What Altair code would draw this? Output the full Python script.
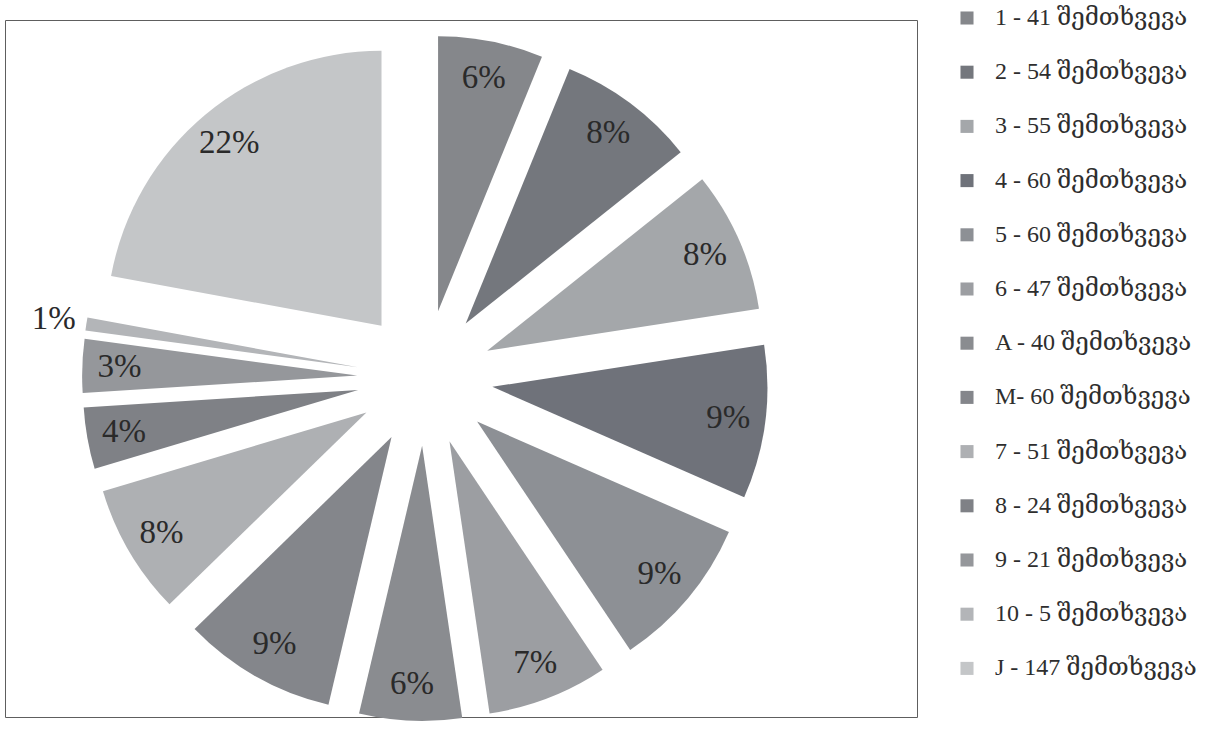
import altair as alt
import pandas as pd

# ---- data ----
labels = [
    "1 - 41 შემთხვევა",
    "2 - 54 შემთხვევა",
    "3 - 55 შემთხვევა",
    "4 - 60 შემთხვევა",
    "5 - 60 შემთხვევა",
    "6 - 47 შემთხვევა",
    "A - 40 შემთხვევა",
    "M- 60 შემთხვევა",
    "7 - 51 შემთხვევა",
    "8 - 24 შემთხვევა",
    "9 - 21 შემთხვევა",
    "10 - 5 შემთხვევა",
    "J -  147 შემთხვევა",
]
values = [41, 54, 55, 60, 60, 47, 40, 60, 51, 24, 21, 5, 147]
colors = [
    "#85878b", "#74777d", "#a4a7aa", "#6f727a", "#8d9095", "#9c9ea2",
    "#8a8c90", "#84868b", "#aeb0b3", "#7f8186", "#95979b", "#b3b5b8",
    "#c4c6c8",
]

df = pd.DataFrame({"label": labels, "value": values, "order": list(range(len(values)))})

# ---- layout ----
W, H = 912, 697          # plot frame
CX, CY = 420, 358        # pie centre inside the frame
R = 275                  # pie radius (px)
EXPLODE = 0.247          # explosion as a fraction of the radius
FONT_LEGEND = "Liberation Serif, DejaVu Serif, DejaVu Sans"
FONT_LABEL = "Liberation Serif, DejaVu Serif"

base = (
    alt.Chart(df)
    .transform_joinaggregate(total="sum(value)")
    .transform_window(cum="sum(value)", sort=[alt.SortField("order")], frame=[None, 0])
    .transform_calculate(
        t1="2*PI*(datum.cum - datum.value)/datum.total",
        t2="2*PI*datum.cum/datum.total",
        share="datum.value/datum.total",
    )
    .transform_calculate(
        mid="(datum.t1 + datum.t2)/2",
        pct="format(datum.share, '.0%')",
        lr=f"datum.share < 0.02 ? {R * 1.12} : {R * 0.865}",
    )
    .transform_calculate(
        ex=f"{EXPLODE}*sin(datum.mid)",
        ey=f"{EXPLODE}*cos(datum.mid)",
    )
)

xenc = alt.X("ex:Q", scale=alt.Scale(domain=[-CX / R, (W - CX) / R], nice=False, zero=False), axis=None)
yenc = alt.Y("ey:Q", scale=alt.Scale(domain=[-(H - CY) / R, CY / R], nice=False, zero=False), axis=None)

arcs = base.mark_arc(radius=R).encode(
    x=xenc,
    y=yenc,
    theta=alt.Theta("t1:Q", scale=None, stack=None),
    theta2=alt.Theta2("t2:Q"),
    color=alt.Color(
        "label:N",
        sort=None,
        scale=alt.Scale(domain=labels, range=colors),
        legend=alt.Legend(
            title=None,
            orient="none",
            legendX=950,
            legendY=-14,
            symbolType="square",
            symbolSize=170,
            symbolStrokeWidth=0,
            labelFont=FONT_LEGEND,
            labelFontSize=24,
            labelColor="#2e2e2e",
            labelOffset=16,
            labelLimit=400,
            rowPadding=30.2,
            padding=0,
        ),
    ),
)

texts = base.mark_text(
    font=FONT_LABEL, fontSize=33, color="#2a2a2a", align="center", baseline="middle"
).encode(
    x=xenc,
    y=yenc,
    theta=alt.Theta("mid:Q", scale=None, stack=None),
    radius=alt.Radius("lr:Q", scale=None),
    text="pct:N",
)

chart = (
    alt.layer(arcs, texts)
    .properties(
        width=W,
        height=H,
        autosize=alt.AutoSizeParams(type="none"),
        padding={"left": 5, "top": 20, "right": 307, "bottom": 24},
        background="white",
    )
    .configure_view(stroke="#5e5e5e", strokeWidth=1)
)

chart.save("out.html", embed_options={"renderer": "svg", "actions": False})
